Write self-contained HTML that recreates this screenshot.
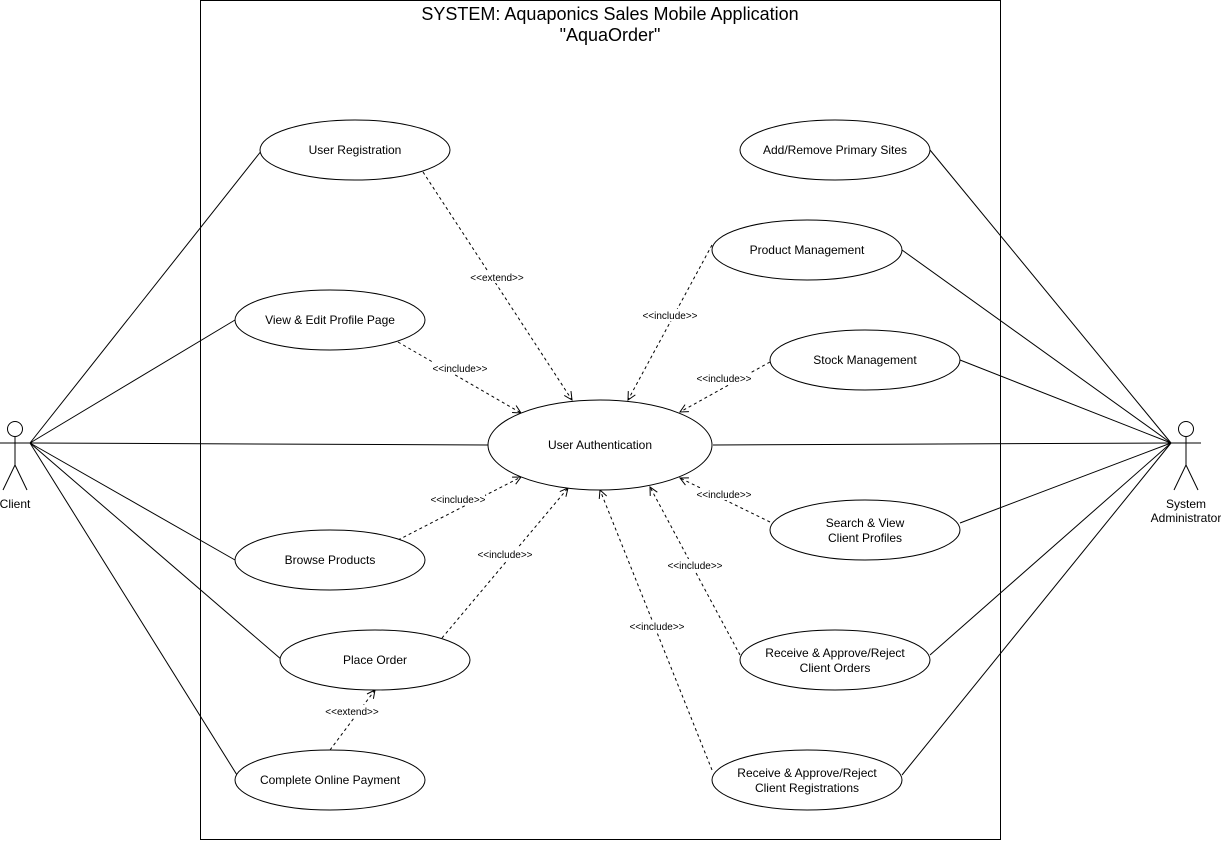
<!DOCTYPE html>
<html><head><meta charset="utf-8"><style>html,body{margin:0;padding:0;background:#fff}svg{display:block}</style></head>
<body>
<svg width="1221" height="842" viewBox="0 0 1221 842" xmlns="http://www.w3.org/2000/svg" font-family="Liberation Sans, Arial, sans-serif">
<defs><marker id="a" markerWidth="10" markerHeight="10" refX="9" refY="5" orient="auto" markerUnits="userSpaceOnUse"><path d="M1,1 L9,5 L1,9" fill="none" stroke="#000" stroke-width="1"/></marker></defs>
<rect x="200.5" y="0.5" width="800" height="839" fill="#fff" stroke="#000"/>
<text x="610" y="20" font-size="18" text-anchor="middle">SYSTEM: Aquaponics Sales Mobile Application</text>
<text x="610" y="41" font-size="18" text-anchor="middle">"AquaOrder"</text>
<g stroke="#000" stroke-width="1" fill="none">
<line x1="30" y1="443" x2="262" y2="150"/><line x1="30" y1="443" x2="235" y2="320"/><line x1="30" y1="443" x2="488" y2="445"/>
<line x1="30" y1="443" x2="235" y2="560"/><line x1="30" y1="443" x2="282" y2="660"/><line x1="30" y1="443" x2="237" y2="775"/>
<line x1="1171" y1="443" x2="930" y2="150"/><line x1="1171" y1="443" x2="902" y2="250"/><line x1="1171" y1="443" x2="960" y2="360"/>
<line x1="1171" y1="443" x2="713" y2="445"/><line x1="1171" y1="443" x2="960" y2="523"/><line x1="1171" y1="443" x2="930" y2="655"/><line x1="1171" y1="443" x2="902" y2="775"/>
</g>
<g stroke="#000" stroke-width="1" fill="none" stroke-dasharray="3,3" marker-end="url(#a)">
<line x1="423" y1="172" x2="572" y2="400"/><line x1="398" y1="342" x2="521" y2="413"/><line x1="398" y1="540" x2="521" y2="477"/>
<line x1="442" y1="638" x2="568" y2="488"/><line x1="330" y1="750" x2="375" y2="690"/><line x1="712" y1="245" x2="628" y2="400"/>
<line x1="770" y1="362" x2="680" y2="412"/><line x1="770" y1="522" x2="680" y2="478"/><line x1="740" y1="655" x2="650" y2="487"/>
<line x1="712" y1="770" x2="600" y2="490"/>
</g>
<g fill="#fff" stroke="#000">
<ellipse cx="355" cy="150" rx="95" ry="30"/><ellipse cx="835" cy="150" rx="95" ry="30"/><ellipse cx="807" cy="250" rx="95" ry="30"/>
<ellipse cx="330" cy="320" rx="95" ry="30"/><ellipse cx="865" cy="360" rx="95" ry="30"/><ellipse cx="600" cy="445" rx="112" ry="45"/>
<ellipse cx="865" cy="530" rx="95" ry="30"/><ellipse cx="330" cy="560" rx="95" ry="30"/><ellipse cx="375" cy="660" rx="95" ry="30"/>
<ellipse cx="835" cy="660" rx="95" ry="30"/><ellipse cx="330" cy="780" rx="95" ry="30"/><ellipse cx="807" cy="780" rx="95" ry="30"/>
</g>
<g font-size="12" text-anchor="middle">
<text x="355" y="154">User Registration</text><text x="835" y="154">Add/Remove Primary Sites</text><text x="807" y="254">Product Management</text>
<text x="330" y="324">View &amp; Edit Profile Page</text><text x="865" y="364">Stock Management</text><text x="600" y="449">User Authentication</text>
<text x="865" y="527">Search &amp; View</text><text x="865" y="542">Client Profiles</text><text x="330" y="564">Browse Products</text>
<text x="375" y="664">Place Order</text><text x="835" y="657">Receive &amp; Approve/Reject</text><text x="835" y="672">Client Orders</text>
<text x="330" y="784">Complete Online Payment</text><text x="807" y="777">Receive &amp; Approve/Reject</text><text x="807" y="792">Client Registrations</text>
<text x="15" y="508">Client</text><text x="1186" y="508">System</text><text x="1186" y="522">Administrator</text>
</g>
<g font-size="10" text-anchor="middle">
<g fill="#fff">
<rect x="470" y="271" width="54" height="12"/><rect x="433" y="362" width="54" height="12"/><rect x="431" y="493" width="54" height="12"/>
<rect x="478" y="548" width="54" height="12"/><rect x="325" y="705" width="54" height="12"/><rect x="643" y="309" width="54" height="12"/>
<rect x="697" y="372" width="54" height="12"/><rect x="697" y="488" width="54" height="12"/><rect x="668" y="559" width="54" height="12"/>
<rect x="630" y="620" width="54" height="12"/>
</g>
<text x="497" y="281">&lt;&lt;extend&gt;&gt;</text>
<text x="460" y="372">&lt;&lt;include&gt;&gt;</text><text x="458" y="503">&lt;&lt;include&gt;&gt;</text><text x="505" y="558">&lt;&lt;include&gt;&gt;</text>
<text x="352" y="715">&lt;&lt;extend&gt;&gt;</text><text x="670" y="319">&lt;&lt;include&gt;&gt;</text><text x="724" y="382">&lt;&lt;include&gt;&gt;</text>
<text x="724" y="498">&lt;&lt;include&gt;&gt;</text><text x="695" y="569">&lt;&lt;include&gt;&gt;</text><text x="657" y="630">&lt;&lt;include&gt;&gt;</text>
</g>
<g stroke="#000" fill="#fff">
<circle cx="15" cy="429" r="7.5"/><line x1="15" y1="437" x2="15" y2="465"/><line x1="0" y1="443" x2="30" y2="443"/>
<line x1="15" y1="465" x2="3" y2="490"/><line x1="15" y1="465" x2="27" y2="490"/>
<circle cx="1186" cy="429" r="7.5"/><line x1="1186" y1="437" x2="1186" y2="465"/><line x1="1171" y1="443" x2="1201" y2="443"/>
<line x1="1186" y1="465" x2="1174" y2="490"/><line x1="1186" y1="465" x2="1198" y2="490"/>
</g>
</svg>
</body></html>
